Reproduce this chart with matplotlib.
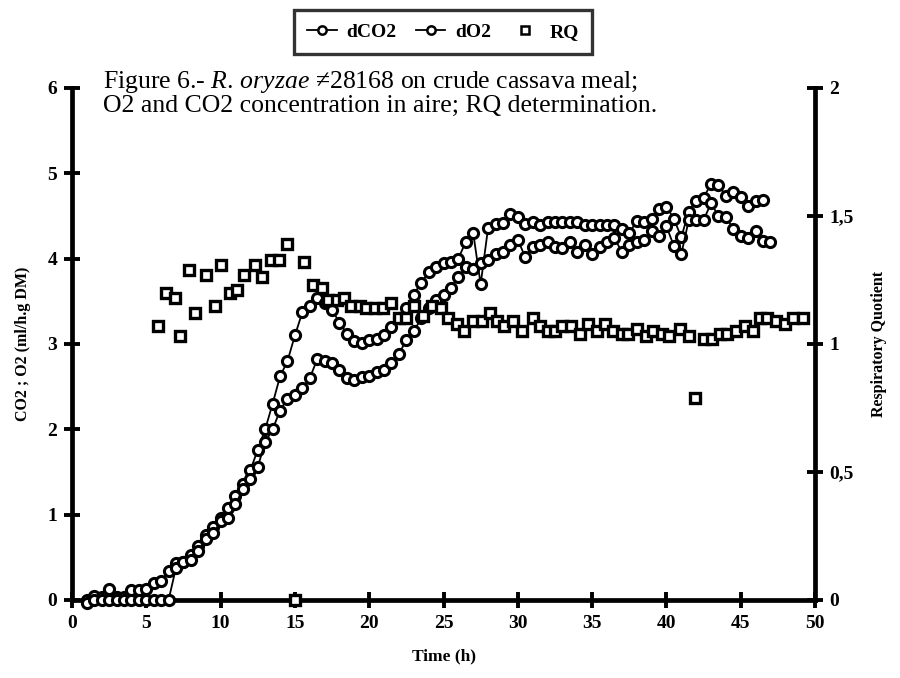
import matplotlib
matplotlib.use("Agg")
import matplotlib.pyplot as plt

# ---------------- data ----------------
time_co2 = [1.0, 1.5, 2.0, 2.5, 3.0, 3.5, 4.0, 4.5, 5.0, 5.5, 6.0, 6.5, 7.0, 7.5, 8.0, 8.5,
            9.0, 9.5, 10.0, 10.5, 11.0, 11.5, 12.0, 12.5, 13.0, 13.5, 14.0, 14.5, 15.0, 15.5,
            16.0, 16.5, 17.0, 17.5, 18.0, 18.5, 19.0, 19.5, 20.0, 20.5, 21.0, 21.5, 22.0, 22.5,
            23.0, 23.5, 24.0, 24.5, 25.0, 25.5, 26.0, 26.5, 27.0, 27.5, 28.0, 28.5, 29.0, 29.5,
            30.0, 30.5, 31.0, 31.5, 32.0, 32.5, 33.0, 33.5, 34.0, 34.5, 35.0, 35.5, 36.0, 36.5,
            37.0, 37.5, 38.0, 38.5, 39.0, 39.5, 40.0, 40.5, 41.0, 41.5, 42.0, 42.5, 43.0, 43.5,
            44.0, 44.5, 45.0, 45.5, 46.0, 46.5]
dco2 = [0.0, 0.05, 0.03, 0.13, 0.03, 0.03, 0.12, 0.12, 0.13, 0.20, 0.22, 0.34, 0.43, 0.45, 0.53, 0.63,
        0.76, 0.85, 0.96, 1.08, 1.22, 1.36, 1.52, 1.76, 2.00, 2.30, 2.62, 2.80, 3.10, 3.37,
        3.45, 3.54, 3.48, 3.40, 3.25, 3.12, 3.04, 3.01, 3.05, 3.06, 3.10, 3.20, 3.30, 3.42,
        3.58, 3.72, 3.84, 3.90, 3.95, 3.96, 4.00, 4.20, 4.30, 3.70, 4.36, 4.41, 4.42, 4.52,
        4.49, 4.41, 4.43, 4.39, 4.43, 4.43, 4.43, 4.43, 4.43, 4.40, 4.40, 4.40, 4.40, 4.40,
        4.35, 4.30, 4.44, 4.43, 4.47, 4.58, 4.61, 4.47, 4.25, 4.55, 4.68, 4.71, 4.88, 4.86,
        4.74, 4.78, 4.72, 4.62, 4.68, 4.69]

time_o2 = [1.0, 1.5, 2.0, 2.5, 3.0, 3.5, 4.0, 4.5, 5.0, 5.5, 6.0, 6.5, 7.0, 7.5, 8.0, 8.5,
           9.0, 9.5, 10.0, 10.5, 11.0, 11.5, 12.0, 12.5, 13.0, 13.5, 14.0, 14.5, 15.0, 15.5,
           16.0, 16.5, 17.0, 17.5, 18.0, 18.5, 19.0, 19.5, 20.0, 20.5, 21.0, 21.5, 22.0, 22.5,
           23.0, 23.5, 24.0, 24.5, 25.0, 25.5, 26.0, 26.5, 27.0, 27.5, 28.0, 28.5, 29.0, 29.5,
           30.0, 30.5, 31.0, 31.5, 32.0, 32.5, 33.0, 33.5, 34.0, 34.5, 35.0, 35.5, 36.0, 36.5,
           37.0, 37.5, 38.0, 38.5, 39.0, 39.5, 40.0, 40.5, 41.0, 41.5, 42.0, 42.5, 43.0, 43.5,
           44.0, 44.5, 45.0, 45.5, 46.0, 46.5, 47.0]
do2 = [-0.03, 0.0, 0.0, 0.0, 0.0, 0.0, 0.0, 0.0, 0.0, 0.0, 0.0, 0.0, 0.38, 0.44, 0.47, 0.58,
       0.72, 0.78, 0.92, 0.96, 1.12, 1.30, 1.42, 1.56, 1.85, 2.00, 2.22, 2.36, 2.40, 2.48,
       2.60, 2.82, 2.80, 2.78, 2.70, 2.60, 2.58, 2.61, 2.63, 2.67, 2.70, 2.78, 2.88, 3.05,
       3.15, 3.30, 3.42, 3.52, 3.58, 3.66, 3.78, 3.90, 3.88, 3.95, 3.98, 4.06, 4.08, 4.16,
       4.22, 4.02, 4.14, 4.16, 4.20, 4.14, 4.12, 4.20, 4.08, 4.16, 4.06, 4.14, 4.20, 4.24,
       4.08, 4.16, 4.20, 4.22, 4.33, 4.27, 4.38, 4.15, 4.05, 4.45, 4.45, 4.45, 4.65, 4.50,
       4.49, 4.35, 4.26, 4.24, 4.32, 4.21, 4.20]

time_rq = [5.8, 6.3, 6.9, 7.3, 7.9, 8.3, 9.0, 9.6, 10.0, 10.6, 11.1, 11.6, 12.3, 12.8, 13.4,
           13.9, 14.5, 15.0, 15.6, 16.2, 16.8, 17.2, 17.8, 18.3, 18.8, 19.4, 19.8, 20.4, 20.9,
           21.5, 22.0, 22.5, 23.0, 23.6, 24.2, 24.8, 25.3, 25.9, 26.4, 27.0, 27.6, 28.1, 28.6,
           29.1, 29.7, 30.3, 31.0, 31.5, 32.0, 32.5, 33.0, 33.6, 34.2, 34.7, 35.3, 35.9, 36.4,
           37.0, 37.4, 38.0, 38.6, 39.1, 39.7, 40.2, 40.9, 41.5, 41.9, 42.5, 43.1, 43.6, 44.1,
           44.7, 45.3, 45.8, 46.3, 46.8, 47.4, 48.0, 48.5, 49.2]
rq = [1.07, 1.20, 1.18, 1.03, 1.29, 1.12, 1.27, 1.15, 1.31, 1.20, 1.21, 1.27, 1.31, 1.26, 1.33,
      1.33, 1.39, 0.0, 1.32, 1.23, 1.22, 1.17, 1.17, 1.18, 1.15, 1.15, 1.14, 1.14, 1.14,
      1.16, 1.10, 1.10, 1.15, 1.11, 1.15, 1.14, 1.10, 1.08, 1.05, 1.09, 1.09, 1.12, 1.09,
      1.07, 1.09, 1.05, 1.10, 1.07, 1.05, 1.05, 1.07, 1.07, 1.04, 1.08, 1.05, 1.08, 1.05,
      1.04, 1.04, 1.06, 1.03, 1.05, 1.04, 1.03, 1.06, 1.03, 0.79, 1.02, 1.02, 1.04, 1.04,
      1.05, 1.07, 1.05, 1.10, 1.10, 1.09, 1.08, 1.10, 1.10]

x_ticks = [0, 5, 10, 15, 20, 25, 30, 35, 40, 45, 50]
y_ticks = [0, 1, 2, 3, 4, 5, 6]
rq_ticks = [0, 0.5, 1, 1.5, 2]
rq_tick_labels = ["0", "0,5", "1", "1,5", "2"]

# ---------------- style ----------------
SERIF = ["Liberation Serif", "DejaVu Serif"]
plt.rcParams["font.family"] = SERIF
plt.rcParams["mathtext.fontset"] = "custom"
plt.rcParams["mathtext.rm"] = "Liberation Serif"
plt.rcParams["mathtext.it"] = "Liberation Serif:italic"
plt.rcParams["mathtext.bf"] = "Liberation Serif:bold"

fig = plt.figure(figsize=(9, 6.78), dpi=100)
ax = fig.add_axes([72 / 900, 1 - 600 / 678, (815 - 72) / 900, (600 - 88) / 678])
ax2 = ax.twinx()

circ = dict(marker="o", markersize=7.3, markerfacecolor="white", markeredgecolor="black",
            markeredgewidth=2.2, color="black", linewidth=1.3, clip_on=False)
l1, = ax.plot(time_co2, dco2, **circ, zorder=3)
l2, = ax.plot(time_o2, do2, **circ, zorder=3)
sq, = ax2.plot(time_rq, rq, linestyle="none", marker="s", markersize=7.5, markerfacecolor="white",
               markeredgecolor="black", markeredgewidth=2.4, clip_on=False, zorder=3)

ax.set_xlim(0, 50)
ax.set_ylim(0, 6)
ax2.set_ylim(0, 2)

for a in (ax, ax2):
    for s in a.spines.values():
        s.set_linewidth(3.4)
    a.spines["top"].set_visible(False)
ax.spines["right"].set_visible(False)
ax2.spines["left"].set_visible(False)
ax2.spines["bottom"].set_visible(False)

ax.set_xticks(x_ticks)
ax.set_xticklabels([str(v) for v in x_ticks])
ax.set_yticks(y_ticks)
ax.set_yticklabels([str(v) for v in y_ticks])
ax2.set_yticks(rq_ticks)
ax2.set_yticklabels(rq_tick_labels)

ax.tick_params(axis="both", direction="inout", length=11, width=2.8, labelsize=14, pad=5)
ax2.tick_params(axis="y", direction="inout", length=11, width=2.8, labelsize=14, pad=5)
for lab in ax.get_xticklabels() + ax.get_yticklabels() + ax2.get_yticklabels():
    lab.set_fontweight("bold")

ax.set_xlabel("Time (h)", fontsize=12.5, fontweight="bold", labelpad=12)
ax.set_ylabel("CO2 ; O2 (ml/h.g DM)", fontsize=11.5, fontweight="bold", labelpad=12)
ax2.set_ylabel("Respiratory Quotient", fontsize=11.5, fontweight="bold", labelpad=12)

# title inside the plot area
ax.text(0.042, 0.99, "Figure 6.- $\\mathit{R.\\,oryzae}$ \u226028168 on crude cassava meal;\n"
        "O2 and CO2 concentration in aire; RQ determination.",
        transform=ax.transAxes, ha="left", va="center", fontsize=18.5, linespacing=0.98)

leg = fig.legend([l1, l2, sq], ["dCO2", "dO2", "RQ"], ncol=3, loc="center",
                 bbox_to_anchor=(443 / 900, 1 - 32 / 678), frameon=True, fancybox=False,
                 edgecolor="black", handlelength=1.5, handletextpad=0.5, columnspacing=1.0,
                 borderpad=0.7, prop={"family": SERIF, "weight": "bold", "size": 14})
leg.get_frame().set_linewidth(2.4)
for h in leg.legend_handles:
    h.set_markersize(6)
    h.set_markeredgewidth(1.8)

fig.savefig("out.png", dpi=100, facecolor="white")
